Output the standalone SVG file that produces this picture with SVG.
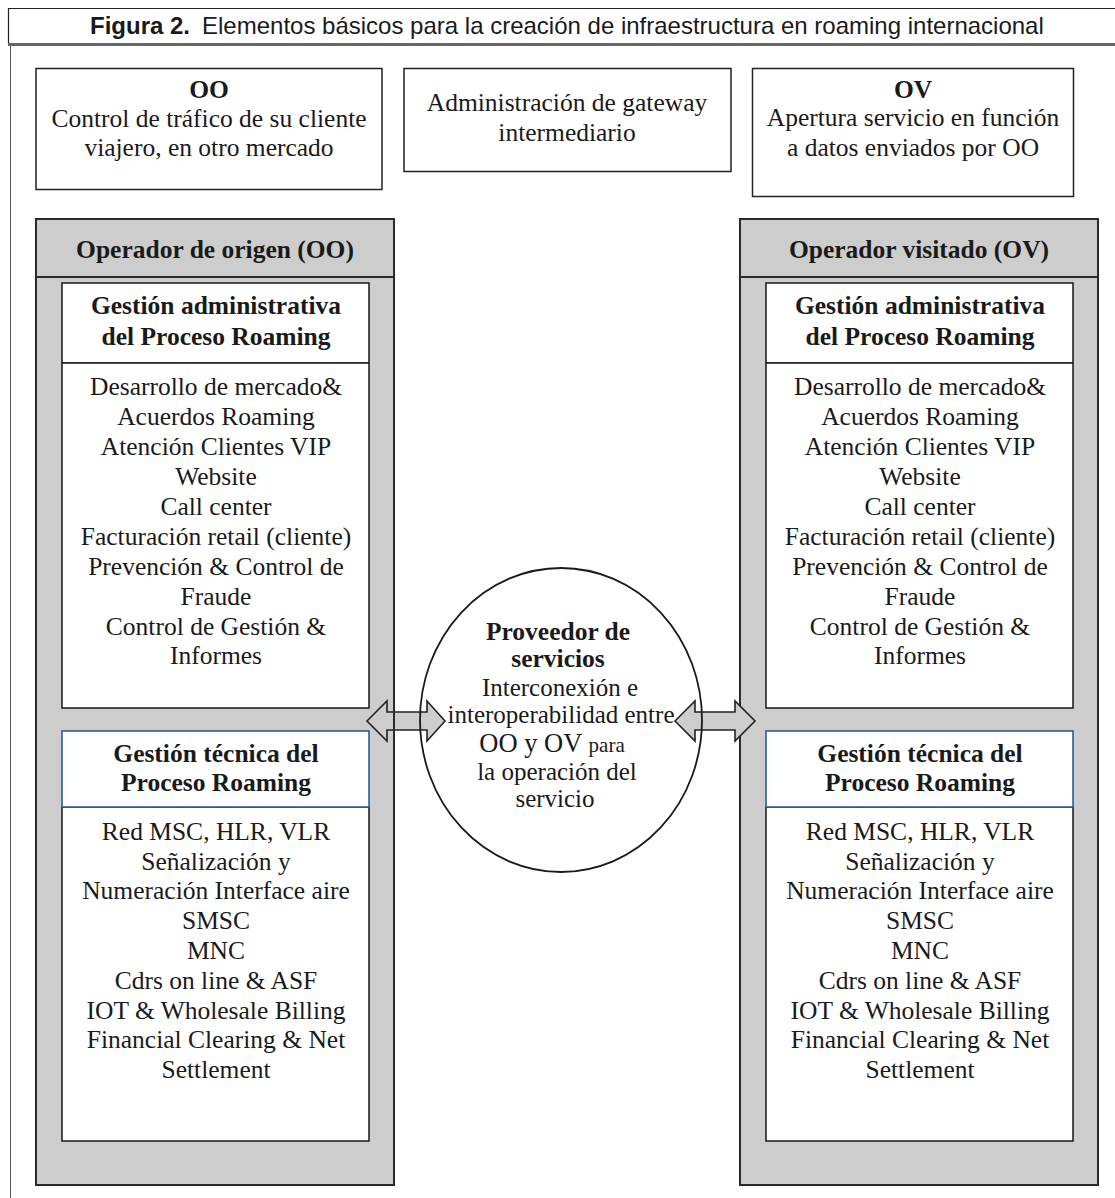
<svg xmlns="http://www.w3.org/2000/svg" width="1115" height="1198" viewBox="0 0 1115 1198">
<style>
.t{font-family:"Liberation Serif","Times New Roman",serif;font-size:25.5px;fill:#1a1a1a;text-anchor:middle}
.b{font-weight:bold}
.c{font-size:25px}
.ttl{font-family:"Liberation Sans",Arial,sans-serif;font-size:24px;fill:#1a1a1a}
.box{fill:#fff;stroke:#222;stroke-width:1.5}
.op{fill:#cdcdcd;stroke:#2a2a2a;stroke-width:2}
.inner{fill:#fff;stroke:#222;stroke-width:1.6}
.blue{fill:#fff;stroke:#2d5a96;stroke-width:1.6}
.arr{fill:#cdcdcd;stroke:#222;stroke-width:1.6;stroke-linejoin:miter}
</style>
<rect width="1115" height="1198" fill="#fff"/>
<g id="frame">
<path d="M1115 8.5H8.5V44" fill="none" stroke="#222" stroke-width="1.2"/>
<line x1="8" y1="44.5" x2="1115" y2="44.5" stroke="#666" stroke-width="3"/>
<line x1="10.5" y1="46" x2="10.5" y2="1198" stroke="#555" stroke-width="1"/>
<text class="ttl" x="90" y="34" font-weight="bold">Figura 2.</text>
<text class="ttl" x="202" y="34">Elementos básicos para la creación de infraestructura en roaming internacional</text>
</g>
<g id="box-oo">
<rect class="box" x="36" y="68.5" width="346" height="121"/>
<text class="t b" x="209" y="98">OO</text>
<text class="t" x="209" y="127">Control de tráfico de su cliente</text>
<text class="t" x="209" y="156">viajero, en otro mercado</text>
</g>
<g id="box-gateway">
<rect class="box" x="404" y="68.5" width="327" height="103"/>
<text class="t" x="567" y="111">Administración de gateway</text>
<text class="t" x="567" y="141">intermediario</text>
</g>
<g id="box-ov">
<rect class="box" x="752.5" y="68.5" width="321" height="128"/>
<text class="t b" x="913" y="98">OV</text>
<text class="t" x="913" y="126">Apertura servicio en función</text>
<text class="t" x="913" y="156">a datos enviados por OO</text>
</g>
<g id="operador-origen">
<rect class="op" x="36" y="219" width="358" height="966"/>
<line x1="36" y1="277" x2="394" y2="277" stroke="#2a2a2a" stroke-width="2"/>
<text class="t b" x="215" y="258">Operador de origen (OO)</text>
</g>
<g id="oo-admin">
<rect class="inner" x="62" y="283" width="307" height="80"/>
<rect class="inner" x="62" y="363" width="307" height="345"/>
<text class="t b" x="216" y="314">Gestión administrativa</text>
<text class="t b" x="216" y="345">del Proceso Roaming</text>
<text class="t" x="216" y="395">Desarrollo de mercado&amp;</text>
<text class="t" x="216" y="425">Acuerdos Roaming</text>
<text class="t" x="216" y="455">Atención Clientes VIP</text>
<text class="t" x="216" y="485">Website</text>
<text class="t" x="216" y="515">Call center</text>
<text class="t" x="216" y="545">Facturación retail (cliente)</text>
<text class="t" x="216" y="575">Prevención &amp; Control de</text>
<text class="t" x="216" y="605">Fraude</text>
<text class="t" x="216" y="635">Control de Gestión &amp;</text>
<text class="t" x="216" y="664">Informes</text>
</g>
<g id="oo-tecnica">
<rect class="inner" x="62" y="807" width="307" height="334"/>
<rect class="blue" x="62" y="731" width="307" height="76"/>
<text class="t b" x="216" y="762">Gestión técnica del</text>
<text class="t b" x="216" y="791">Proceso Roaming</text>
<text class="t" x="216" y="840">Red MSC, HLR, VLR</text>
<text class="t" x="216" y="870">Señalización y</text>
<text class="t" x="216" y="899">Numeración Interface aire</text>
<text class="t" x="216" y="929">SMSC</text>
<text class="t" x="216" y="959">MNC</text>
<text class="t" x="216" y="989">Cdrs on line &amp; ASF</text>
<text class="t" x="216" y="1019">IOT &amp; Wholesale Billing</text>
<text class="t" x="216" y="1048">Financial Clearing &amp; Net</text>
<text class="t" x="216" y="1078">Settlement</text>
</g>
<g id="operador-visitado">
<rect class="op" x="740" y="219" width="358" height="966"/>
<line x1="740" y1="277" x2="1098" y2="277" stroke="#2a2a2a" stroke-width="2"/>
<text class="t b" x="919" y="258">Operador visitado (OV)</text>
</g>
<g id="ov-admin">
<rect class="inner" x="766" y="283" width="307" height="80"/>
<rect class="inner" x="766" y="363" width="307" height="345"/>
<text class="t b" x="920" y="314">Gestión administrativa</text>
<text class="t b" x="920" y="345">del Proceso Roaming</text>
<text class="t" x="920" y="395">Desarrollo de mercado&amp;</text>
<text class="t" x="920" y="425">Acuerdos Roaming</text>
<text class="t" x="920" y="455">Atención Clientes VIP</text>
<text class="t" x="920" y="485">Website</text>
<text class="t" x="920" y="515">Call center</text>
<text class="t" x="920" y="545">Facturación retail (cliente)</text>
<text class="t" x="920" y="575">Prevención &amp; Control de</text>
<text class="t" x="920" y="605">Fraude</text>
<text class="t" x="920" y="635">Control de Gestión &amp;</text>
<text class="t" x="920" y="664">Informes</text>
</g>
<g id="ov-tecnica">
<rect class="inner" x="766" y="807" width="307" height="334"/>
<rect class="blue" x="766" y="731" width="307" height="76"/>
<text class="t b" x="920" y="762">Gestión técnica del</text>
<text class="t b" x="920" y="791">Proceso Roaming</text>
<text class="t" x="920" y="840">Red MSC, HLR, VLR</text>
<text class="t" x="920" y="870">Señalización y</text>
<text class="t" x="920" y="899">Numeración Interface aire</text>
<text class="t" x="920" y="929">SMSC</text>
<text class="t" x="920" y="959">MNC</text>
<text class="t" x="920" y="989">Cdrs on line &amp; ASF</text>
<text class="t" x="920" y="1019">IOT &amp; Wholesale Billing</text>
<text class="t" x="920" y="1048">Financial Clearing &amp; Net</text>
<text class="t" x="920" y="1078">Settlement</text>
</g>
<g id="proveedor">
<ellipse cx="561" cy="720" rx="141" ry="152" fill="#fff" stroke="none"/>
</g>
<g id="connectors">
<path class="arr" d="M367 721L387 701V712H427V701L445 721L427 741V730H387V741Z"/>
<path class="arr" d="M675 721L695 701V712H735V701L755 721L735 741V730H695V741Z"/>
<line x1="394" y1="700" x2="394" y2="742" stroke="#2a2a2a" stroke-width="2"/>
</g>
<g id="proveedor-label">
<ellipse cx="561" cy="720" rx="141" ry="152" fill="none" stroke="#1a1a1a" stroke-width="1.8"/>
<text class="t b" x="558" y="640">Proveedor de</text>
<text class="t b" x="558" y="667">servicios</text>
<text class="t c" x="560" y="696">Interconexión e</text>
<text class="t c" x="561" y="723">interoperabilidad entre</text>
<text class="t c" x="552" y="752"><tspan font-size="26.5">OO y OV</tspan> <tspan font-size="21">para</tspan></text>
<text class="t c" x="557" y="780">la operación del</text>
<text class="t c" x="555" y="807">servicio</text>
</g>
</svg>
